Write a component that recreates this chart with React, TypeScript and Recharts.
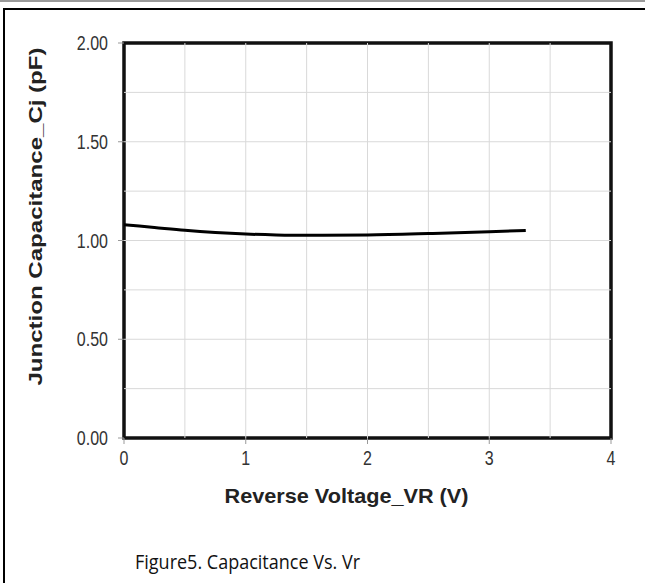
import React from 'react';
import { ComposedChart, Line, XAxis, YAxis, ReferenceLine, ReferenceArea } from 'recharts';

const voltage = [0, 0.25, 0.5, 0.75, 1.0, 1.25, 1.5, 2.0, 2.5, 3.0, 3.3];
const capacitance = [1.08, 1.066, 1.052, 1.041, 1.033, 1.028, 1.026, 1.028, 1.035, 1.044, 1.051];
const xTicks = [0, 1, 2, 3, 4];
const yTicks = [0, 0.5, 1.0, 1.5, 2.0];
const gridX = [0.5, 1, 1.5, 2, 2.5, 3, 3.5];
const gridY = [0.25, 0.5, 0.75, 1.0, 1.25, 1.5, 1.75];

const data = voltage.map((v, i) => ({ v, c: capacitance[i] }));

const FONT = '"Liberation Sans", Arial, sans-serif';

const XTick = (props: any) => {
  const { x, y, payload } = props;
  return (
    <text
      transform={`translate(${x}, ${y + 21}) scale(1, 1.25)`}
      textAnchor="middle"
      style={{ fontFamily: FONT, fontSize: 16, fill: '#333' }}
    >
      {payload.value}
    </text>
  );
};

const YTick = (props: any) => {
  const { x, y, payload } = props;
  return (
    <text
      transform={`translate(${x}, ${y + 7}) scale(1, 1.25)`}
      textAnchor="end"
      style={{ fontFamily: FONT, fontSize: 16, fill: '#333' }}
    >
      {Number(payload.value).toFixed(2)}
    </text>
  );
};

const YTitle = (props: any) => {
  const vb = props.viewBox || {};
  const x = vb.x + 36;
  const y = vb.y + vb.height / 2 - 24;
  return (
    <text
      x={x}
      y={y}
      transform={`rotate(-90, ${x}, ${y})`}
      textAnchor="middle"
      dominantBaseline="central"
      textLength={338}
      lengthAdjust="spacingAndGlyphs"
      style={{ fontFamily: FONT, fontWeight: 'bold', fontSize: 18, fill: '#222' }}
    >
      Junction Capacitance_Cj (pF)
    </text>
  );
};

const XTitle = (props: any) => {
  const vb = props.viewBox || {};
  const x = vb.x + vb.width / 2 - 21;
  const y = vb.y + 57;
  return (
    <text
      x={x}
      y={y}
      textAnchor="middle"
      dominantBaseline="central"
      textLength={244}
      lengthAdjust="spacingAndGlyphs"
      style={{ fontFamily: FONT, fontWeight: 'bold', fontSize: 21, fill: '#222' }}
    >
      Reverse Voltage_VR (V)
    </text>
  );
};

export default function App() {
  return (
    <div style={{ position: 'absolute', left: 0, top: 0, width: 645, height: 583, background: '#fff', overflow: 'hidden' }}>
      <div style={{ position: 'absolute', left: 0, top: 0, width: 645, height: 0, borderTop: '2px solid #9a9a9a' }} />
      <div style={{ position: 'absolute', left: 3, top: 8, width: 642, height: 575, borderTop: '2px solid #000', borderLeft: '2px solid #000' }} />
      <div style={{ position: 'absolute', left: 0, top: 0 }}>
        <ComposedChart width={645} height={583} data={data} margin={{ top: 43, right: 34, bottom: 115, left: 0 }}>
          <XAxis
            type="number"
            dataKey="v"
            domain={[0, 4]}
            ticks={xTicks}
            tick={<XTick />}
            tickLine={{ stroke: '#999' }}
            tickSize={6}
            tickMargin={0}
            axisLine={false}
            height={30}
            label={<XTitle />}
            allowDataOverflow
          />
          <YAxis
            type="number"
            domain={[0, 2]}
            ticks={yTicks}
            width={124}
            tick={<YTick />}
            tickLine={{ stroke: '#999' }}
            tickSize={6}
            tickMargin={10}
            axisLine={false}
            label={<YTitle />}
            allowDataOverflow
          />
          {gridX.map((g) => (
            <ReferenceLine key={'gx' + g} x={g} stroke="#d9d9d9" strokeWidth={1} />
          ))}
          {gridY.map((g) => (
            <ReferenceLine key={'gy' + g} y={g} stroke="#d9d9d9" strokeWidth={1} />
          ))}
          <ReferenceArea x1={0} x2={4} y1={0} y2={2} fill="none" fillOpacity={0} stroke="#111" strokeWidth={3.5} />
          <Line
            type="monotone"
            dataKey="c"
            stroke="#000"
            strokeWidth={3}
            dot={false}
            isAnimationActive={false}
          />
        </ComposedChart>
      </div>
      <div
        style={{
          position: 'absolute',
          left: 135,
          top: 547,
          fontFamily: '"Open Sans", "Noto Sans", sans-serif',
          fontSize: 18,
          lineHeight: '28px',
          color: '#111',
          whiteSpace: 'nowrap',
          transform: 'scaleY(1.15)',
          transformOrigin: 'left center',
        }}
      >
        Figure5. Capacitance Vs. Vr
      </div>
    </div>
  );
}
